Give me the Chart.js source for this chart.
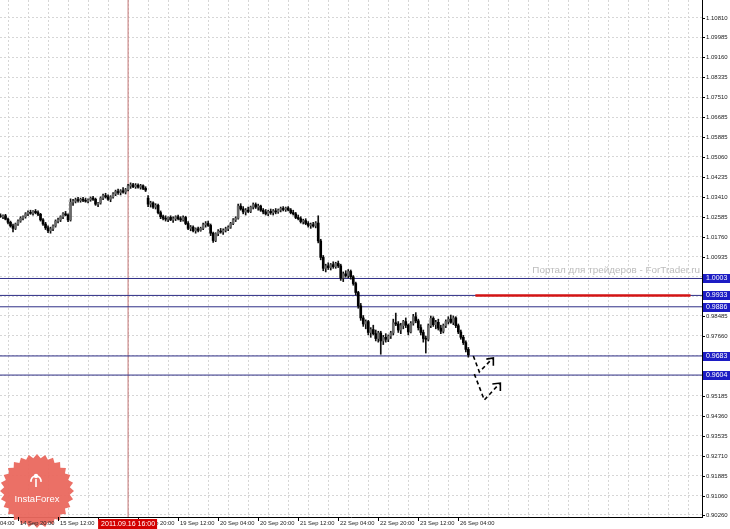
<!DOCTYPE html>
<html>
<head>
<meta charset="utf-8">
<script src="https://cdn.jsdelivr.net/npm/chart.js@4.4.0/dist/chart.umd.min.js"></script>
<style>
html,body{margin:0;padding:0;background:#fff}
#wrap{width:730px;height:529px}
</style>
</head>
<body>
<div id="wrap"><canvas id="c" width="730" height="529"></canvas></div>
<script>
// H1 candles, 14 Sep 13:00 .. 26 Sep 08:00 (bar index 0..187)
const opens = [
1.0262,1.0258,1.0262,1.0248,1.0235,1.0220,1.0210,1.0228,1.0240,1.0252,
1.0258,1.0270,1.0276,1.0272,1.0280,1.0275,1.0268,1.0245,1.0228,1.0212,
1.0200,1.0208,1.0220,1.0240,1.0245,1.0258,1.0270,1.0265,1.0245,1.0318,
1.0322,1.0328,1.0325,1.0330,1.0326,1.0322,1.0328,1.0335,1.0330,1.0310,
1.0315,1.0335,1.0345,1.0340,1.0330,1.0340,1.0352,1.0362,1.0358,1.0365,
1.0360,1.0370,1.0385,1.0390,1.0382,1.0388,1.0380,1.0386,1.0375,1.0335,
1.0310,1.0315,1.0298,1.0305,1.0275,1.0258,1.0252,1.0248,1.0255,1.0245,
1.0250,1.0258,1.0250,1.0245,1.0255,1.0230,1.0210,1.0215,1.0200,1.0208,
1.0202,1.0210,1.0225,1.0230,1.0222,1.0190,1.0160,1.0188,1.0198,1.0195,
1.0202,1.0208,1.0215,1.0230,1.0245,1.0252,1.0302,1.0290,1.0278,1.0285,
1.0280,1.0298,1.0308,1.0298,1.0302,1.0285,1.0278,1.0270,1.0280,1.0275,
1.0282,1.0278,1.0286,1.0292,1.0288,1.0294,1.0286,1.0275,1.0270,1.0255,
1.0250,1.0238,1.0242,1.0230,1.0222,1.0225,1.0220,1.0232,1.0158,1.0090,
1.0045,1.0055,1.0048,1.0060,1.0052,1.0065,1.0055,1.0005,1.0022,1.0015,
1.0032,1.0010,0.9982,0.9945,0.9890,0.9840,0.9815,0.9825,0.9780,0.9792,
0.9775,0.9755,0.9778,0.9745,0.9760,0.9752,0.9765,0.9778,0.9820,0.9815,
0.9790,0.9808,0.9825,0.9810,0.9782,0.9818,0.9845,0.9828,0.9800,0.9780,
0.9755,0.9752,0.9808,0.9838,0.9812,0.9822,0.9798,0.9785,0.9808,0.9825,
0.9835,0.9822,0.9840,0.9808,0.9782,0.9760,0.9738,0.9710];
const highs = [
1.0270,1.0266,1.0268,1.0252,1.0240,1.0228,1.0232,1.0245,1.0258,1.0262,
1.0275,1.0282,1.0285,1.0283,1.0288,1.0282,1.0272,1.0250,1.0235,1.0220,
1.0215,1.0225,1.0245,1.0252,1.0262,1.0275,1.0280,1.0270,1.0332,1.0330,
1.0335,1.0338,1.0335,1.0338,1.0335,1.0332,1.0340,1.0342,1.0335,1.0318,
1.0340,1.0352,1.0355,1.0348,1.0345,1.0358,1.0368,1.0372,1.0370,1.0378,
1.0375,1.0392,1.0398,1.0396,1.0395,1.0394,1.0392,1.0390,1.0382,1.0345,
1.0322,1.0320,1.0312,1.0310,1.0282,1.0265,1.0262,1.0258,1.0262,1.0258,
1.0262,1.0265,1.0258,1.0262,1.0260,1.0238,1.0222,1.0220,1.0212,1.0215,
1.0215,1.0232,1.0238,1.0240,1.0228,1.0195,1.0192,1.0205,1.0210,1.0208,
1.0215,1.0220,1.0235,1.0250,1.0258,1.0310,1.0312,1.0300,1.0292,1.0298,
1.0302,1.0315,1.0315,1.0310,1.0306,1.0292,1.0288,1.0285,1.0290,1.0288,
1.0292,1.0290,1.0298,1.0300,1.0298,1.0300,1.0292,1.0285,1.0276,1.0265,
1.0258,1.0248,1.0250,1.0238,1.0232,1.0235,1.0238,1.0262,1.0165,1.0098,
1.0062,1.0068,1.0065,1.0072,1.0070,1.0075,1.0062,1.0030,1.0035,1.0040,
1.0038,1.0015,0.9988,0.9950,0.9900,0.9850,0.9832,0.9830,0.9800,0.9810,
0.9790,0.9785,0.9785,0.9768,0.9775,0.9770,0.9785,0.9835,0.9860,0.9825,
0.9818,0.9830,0.9840,0.9815,0.9825,0.9855,0.9862,0.9835,0.9812,0.9790,
0.9765,0.9815,0.9848,0.9845,0.9830,0.9835,0.9810,0.9815,0.9832,0.9845,
0.9852,0.9848,0.9845,0.9815,0.9790,0.9768,0.9745,0.9718];
const lows = [
1.0255,1.0250,1.0245,1.0228,1.0215,1.0195,1.0205,1.0222,1.0235,1.0245,
1.0252,1.0262,1.0268,1.0265,1.0270,1.0262,1.0240,1.0222,1.0205,1.0192,
1.0190,1.0200,1.0215,1.0232,1.0238,1.0250,1.0262,1.0238,1.0240,1.0305,
1.0315,1.0318,1.0318,1.0320,1.0318,1.0315,1.0322,1.0325,1.0305,1.0300,
1.0310,1.0328,1.0335,1.0325,1.0320,1.0335,1.0345,1.0350,1.0348,1.0355,
1.0352,1.0365,1.0375,1.0378,1.0375,1.0376,1.0372,1.0370,1.0362,1.0300,
1.0298,1.0292,1.0290,1.0270,1.0250,1.0245,1.0240,1.0238,1.0242,1.0235,
1.0242,1.0245,1.0238,1.0240,1.0225,1.0205,1.0200,1.0195,1.0190,1.0195,
1.0198,1.0205,1.0215,1.0218,1.0180,1.0152,1.0155,1.0180,1.0190,1.0185,
1.0195,1.0200,1.0210,1.0225,1.0238,1.0248,1.0285,1.0270,1.0265,1.0275,
1.0275,1.0290,1.0292,1.0285,1.0280,1.0270,1.0265,1.0262,1.0268,1.0265,
1.0270,1.0272,1.0278,1.0282,1.0280,1.0282,1.0270,1.0265,1.0250,1.0245,
1.0232,1.0228,1.0225,1.0215,1.0210,1.0215,1.0212,1.0150,1.0080,1.0035,
1.0030,1.0040,1.0038,1.0045,1.0045,1.0048,0.9995,0.9990,1.0008,1.0005,
1.0000,0.9975,0.9935,0.9880,0.9830,0.9805,0.9795,0.9770,0.9760,0.9770,
0.9745,0.9740,0.9690,0.9730,0.9740,0.9742,0.9755,0.9770,0.9808,0.9780,
0.9775,0.9795,0.9800,0.9770,0.9778,0.9810,0.9820,0.9790,0.9770,0.9740,
0.9695,0.9745,0.9800,0.9805,0.9795,0.9790,0.9775,0.9778,0.9800,0.9815,
0.9818,0.9812,0.9800,0.9775,0.9752,0.9730,0.9700,0.9678];
const closes = [
1.0258,1.0262,1.0248,1.0235,1.0220,1.0210,1.0228,1.0240,1.0252,1.0258,
1.0270,1.0276,1.0272,1.0280,1.0275,1.0268,1.0245,1.0228,1.0212,1.0200,
1.0208,1.0220,1.0240,1.0245,1.0258,1.0270,1.0265,1.0245,1.0318,1.0322,
1.0328,1.0325,1.0330,1.0326,1.0322,1.0328,1.0335,1.0330,1.0310,1.0315,
1.0335,1.0345,1.0340,1.0330,1.0340,1.0352,1.0362,1.0358,1.0365,1.0360,
1.0370,1.0385,1.0390,1.0382,1.0388,1.0380,1.0386,1.0375,1.0368,1.0310,
1.0315,1.0298,1.0305,1.0275,1.0258,1.0252,1.0248,1.0255,1.0245,1.0250,
1.0258,1.0250,1.0245,1.0255,1.0230,1.0210,1.0215,1.0200,1.0208,1.0202,
1.0210,1.0225,1.0230,1.0222,1.0190,1.0160,1.0188,1.0198,1.0195,1.0202,
1.0208,1.0215,1.0230,1.0245,1.0252,1.0302,1.0290,1.0278,1.0285,1.0280,
1.0298,1.0308,1.0298,1.0302,1.0285,1.0278,1.0270,1.0280,1.0275,1.0282,
1.0278,1.0286,1.0292,1.0288,1.0294,1.0286,1.0275,1.0270,1.0255,1.0250,
1.0238,1.0242,1.0230,1.0222,1.0225,1.0220,1.0232,1.0158,1.0090,1.0045,
1.0055,1.0048,1.0060,1.0052,1.0065,1.0055,1.0005,1.0022,1.0015,1.0032,
1.0010,0.9982,0.9945,0.9890,0.9840,0.9815,0.9825,0.9780,0.9792,0.9775,
0.9755,0.9778,0.9745,0.9760,0.9752,0.9765,0.9778,0.9820,0.9815,0.9790,
0.9808,0.9825,0.9810,0.9782,0.9818,0.9845,0.9828,0.9800,0.9780,0.9755,
0.9752,0.9808,0.9838,0.9812,0.9822,0.9798,0.9785,0.9808,0.9825,0.9835,
0.9822,0.9840,0.9808,0.9782,0.9760,0.9738,0.9710,0.9688];

// price axis labels (as printed by the terminal)
const yTickLabels = ["1.10810","1.09985","1.09160","1.08335","1.07510","1.06685","1.05885","1.05060",
  "1.04235","1.03410","1.02585","1.01760","1.00935","1.00110","0.99285","0.98485","0.97660",
  "0.96835","0.96010","0.95185","0.94360","0.93535","0.92710","0.91885","0.91060","0.90260"];
// time axis labels, one every 16 bars starting at bar -9
const xTickLabels = ["14 Sep 04:00","14 Sep 20:00","15 Sep 12:00","16 Sep 04:00","16 Sep 20:00",
  "19 Sep 12:00","20 Sep 04:00","20 Sep 20:00","21 Sep 12:00","22 Sep 04:00","22 Sep 20:00",
  "23 Sep 12:00","26 Sep 04:00"];
const firstLabelBar = -9;

// horizontal levels
const levels = [1.0003, 0.9933, 0.9886, 0.9683, 0.9604];
const levelLabels = ["1.0003","0.9933","0.9886","0.9683","0.9604"];

// vertical line at 2011.09.16 16:00
const vLineBar = 51;
const vLineLabel = "2011.09.16 16:00";

// red resistance segment
const redSeg = [{x:189.8, y:0.9933}, {x:275.8, y:0.9933}];

// hand drawn arrows (bar, price)
const arrow1 = [{x:189.0,y:0.9683},{x:191.4,y:0.9617},{x:196.6,y:0.9672}];
const arrow1Head = [{x:194.2,y:0.9670},{x:197.0,y:0.9675},{x:197.0,y:0.9642}];
const arrow2 = [{x:189.4,y:0.9608},{x:193.4,y:0.9501},{x:199.4,y:0.9568}];
const arrow2Head = [{x:196.6,y:0.9567},{x:199.8,y:0.9571},{x:199.8,y:0.9538}];

const yMin = 0.90177, yMax = 1.11533;
const xMin = -0.2, xMax = 280.4;

const wickData = highs.map((h, i) => ({x: i, y: [lows[i], h]}));
const bodyData = opens.map((o, i) => ({x: i, y: [o, closes[i]]}));
const bodyColors = opens.map((o, i) => closes[i] > o ? '#6a6a6a' : '#000000');

const lineDs = (data, color, width, order, dash) => ({
  type: 'line', data: data, borderColor: color, borderWidth: width, pointRadius: 0,
  tension: 0, fill: false, order: order, borderDash: dash || [], borderCapStyle: 'butt'
});

const datasets = [];
levels.forEach(v => datasets.push(lineDs([{x:xMin,y:v},{x:xMax,y:v}], '#2e2e86', 1, 20)));
datasets.push(lineDs([{x:vLineBar,y:yMin},{x:vLineBar,y:yMax}], '#c47474', 1, 21));
datasets.push({label:'wick', data: wickData, backgroundColor:'#111', barThickness:1, grouped:false, order:5});
datasets.push({label:'body', data: bodyData, backgroundColor: bodyColors, barThickness:2, minBarLength:1, grouped:false, order:4});
datasets.push(lineDs(redSeg, '#d41414', 2.5, 3));
datasets.push(lineDs(arrow1, '#000', 1.6, 1, [4,3]));
datasets.push(lineDs(arrow1Head, '#000', 1.6, 1));
datasets.push(lineDs(arrow2, '#000', 1.6, 1, [4,3]));
datasets.push(lineDs(arrow2Head, '#000', 1.6, 1));

function drawLogo(ctx, cx, cy) {
  ctx.save();
  const n = 28, R = 37, r = 33;
  ctx.beginPath();
  for (let i = 0; i < n * 2; i++) {
    const a = i * Math.PI / n - Math.PI / 2;
    const rad = i % 2 ? r : R;
    ctx.lineTo(cx + rad * Math.cos(a), cy + rad * Math.sin(a));
  }
  ctx.closePath();
  ctx.fillStyle = 'rgba(234,104,94,0.95)';
  ctx.fill();
  // little emblem
  ctx.fillStyle = '#fff';
  ctx.strokeStyle = '#fff';
  ctx.lineWidth = 1.6;
  ctx.beginPath(); ctx.arc(cx - 1, cy - 15, 2.2, 0, Math.PI * 2); ctx.fill();
  ctx.beginPath(); ctx.moveTo(cx - 1, cy - 12); ctx.lineTo(cx - 1, cy - 4); ctx.stroke();
  ctx.beginPath(); ctx.arc(cx - 1, cy - 10, 5, Math.PI * 0.95, Math.PI * 1.6); ctx.stroke();
  ctx.beginPath(); ctx.arc(cx - 1, cy - 10, 5, Math.PI * 1.4, Math.PI * 2.05); ctx.stroke();
  ctx.font = '9.5px "Liberation Sans", Arial, sans-serif';
  ctx.textAlign = 'center';
  ctx.textBaseline = 'middle';
  ctx.fillText('InstaForex', cx, cy + 8);
  ctx.restore();
}

const overlay = {
  id: 'overlay',
  beforeDatasetsDraw(chart) {
    const ctx = chart.ctx;
    ctx.save();
    ctx.fillStyle = '#bcbcbc';
    ctx.textAlign = 'right';
    ctx.textBaseline = 'middle';
    const txt = 'Портал для трейдеров - ForTrader.ru';
    let fs = 10;
    ctx.font = fs + 'px "Liberation Sans", Arial, sans-serif';
    fs = fs * 168 / ctx.measureText(txt).width;
    ctx.font = fs.toFixed(2) + 'px "Liberation Sans", Arial, sans-serif';
    ctx.fillText(txt, 700, 270);
    ctx.restore();
  },
  afterDraw(chart) {
    const {ctx, chartArea: a, scales: {x, y}} = chart;
    drawLogo(ctx, 37, 491);
    ctx.save();
    // price labels
    ctx.font = '6px "Liberation Sans", Arial, sans-serif';
    ctx.fillStyle = '#222';
    ctx.strokeStyle = '#000';
    ctx.lineWidth = 1;
    ctx.textAlign = 'left';
    ctx.textBaseline = 'middle';
    yTickLabels.forEach(l => {
      const py = Math.round(y.getPixelForValue(parseFloat(l))) + 0.5;
      ctx.beginPath(); ctx.moveTo(a.right, py); ctx.lineTo(a.right + 3, py); ctx.stroke();
      ctx.fillText(l, a.right + 4, py);
    });
    // level tags
    ctx.font = '7px "Liberation Sans", Arial, sans-serif';
    levels.forEach((v, i) => {
      const py = Math.round(y.getPixelForValue(v));
      ctx.fillStyle = '#1c1cc4';
      ctx.fillRect(a.right + 1, py - 4, 27, 9);
      ctx.fillStyle = '#fff';
      ctx.fillText(levelLabels[i], a.right + 4, py + 0.5);
    });
    // time labels
    ctx.font = '5.8px "Liberation Sans", Arial, sans-serif';
    ctx.fillStyle = '#222';
    xTickLabels.forEach((l, k) => {
      const px = Math.round(x.getPixelForValue(firstLabelBar + 16 * k)) + 0.5;
      ctx.beginPath(); ctx.moveTo(px, a.bottom); ctx.lineTo(px, a.bottom + 4); ctx.stroke();
      ctx.fillText(l, px + 1.5, a.bottom + 6);
    });
    // vertical line tag
    const vx = x.getPixelForValue(vLineBar);
    ctx.fillStyle = '#d40000';
    ctx.fillRect(vx - 30, a.bottom + 2, 59, 10);
    ctx.fillStyle = '#fff';
    ctx.font = '7px "Liberation Sans", Arial, sans-serif';
    ctx.textAlign = 'center';
    ctx.fillText(vLineLabel, vx, a.bottom + 7.5);
    ctx.restore();
  }
};

new Chart(document.getElementById('c'), {
  type: 'bar',
  data: {datasets: datasets},
  options: {
    responsive: false,
    animation: false,
    events: [],
    layout: {padding: 0},
    plugins: {legend: {display: false}, tooltip: {enabled: false}},
    scales: {
      x: {
        type: 'linear', min: xMin, max: xMax, bounds: 'data', offset: false,
        afterBuildTicks: s => {
          const t = [];
          for (let v = firstLabelBar + 16; v <= xMax; v += 8) t.push({value: v});
          s.ticks = t;
        },
        afterFit: s => { s.height = 12; },
        ticks: {display: false},
        grid: {color: '#d6d6d6', drawTicks: false, lineWidth: 1},
        border: {color: '#000', width: 1, dash: [2, 2]}
      },
      y: {
        position: 'right', min: yMin, max: yMax, bounds: 'data',
        afterBuildTicks: s => { s.ticks = yTickLabels.map(l => ({value: parseFloat(l)})); },
        afterFit: s => { s.width = 28; },
        ticks: {display: false},
        grid: {color: '#d6d6d6', drawTicks: false, lineWidth: 1},
        border: {color: '#000', width: 1, dash: [2, 2]}
      }
    }
  },
  plugins: [overlay]
});
</script>
</body>
</html>
